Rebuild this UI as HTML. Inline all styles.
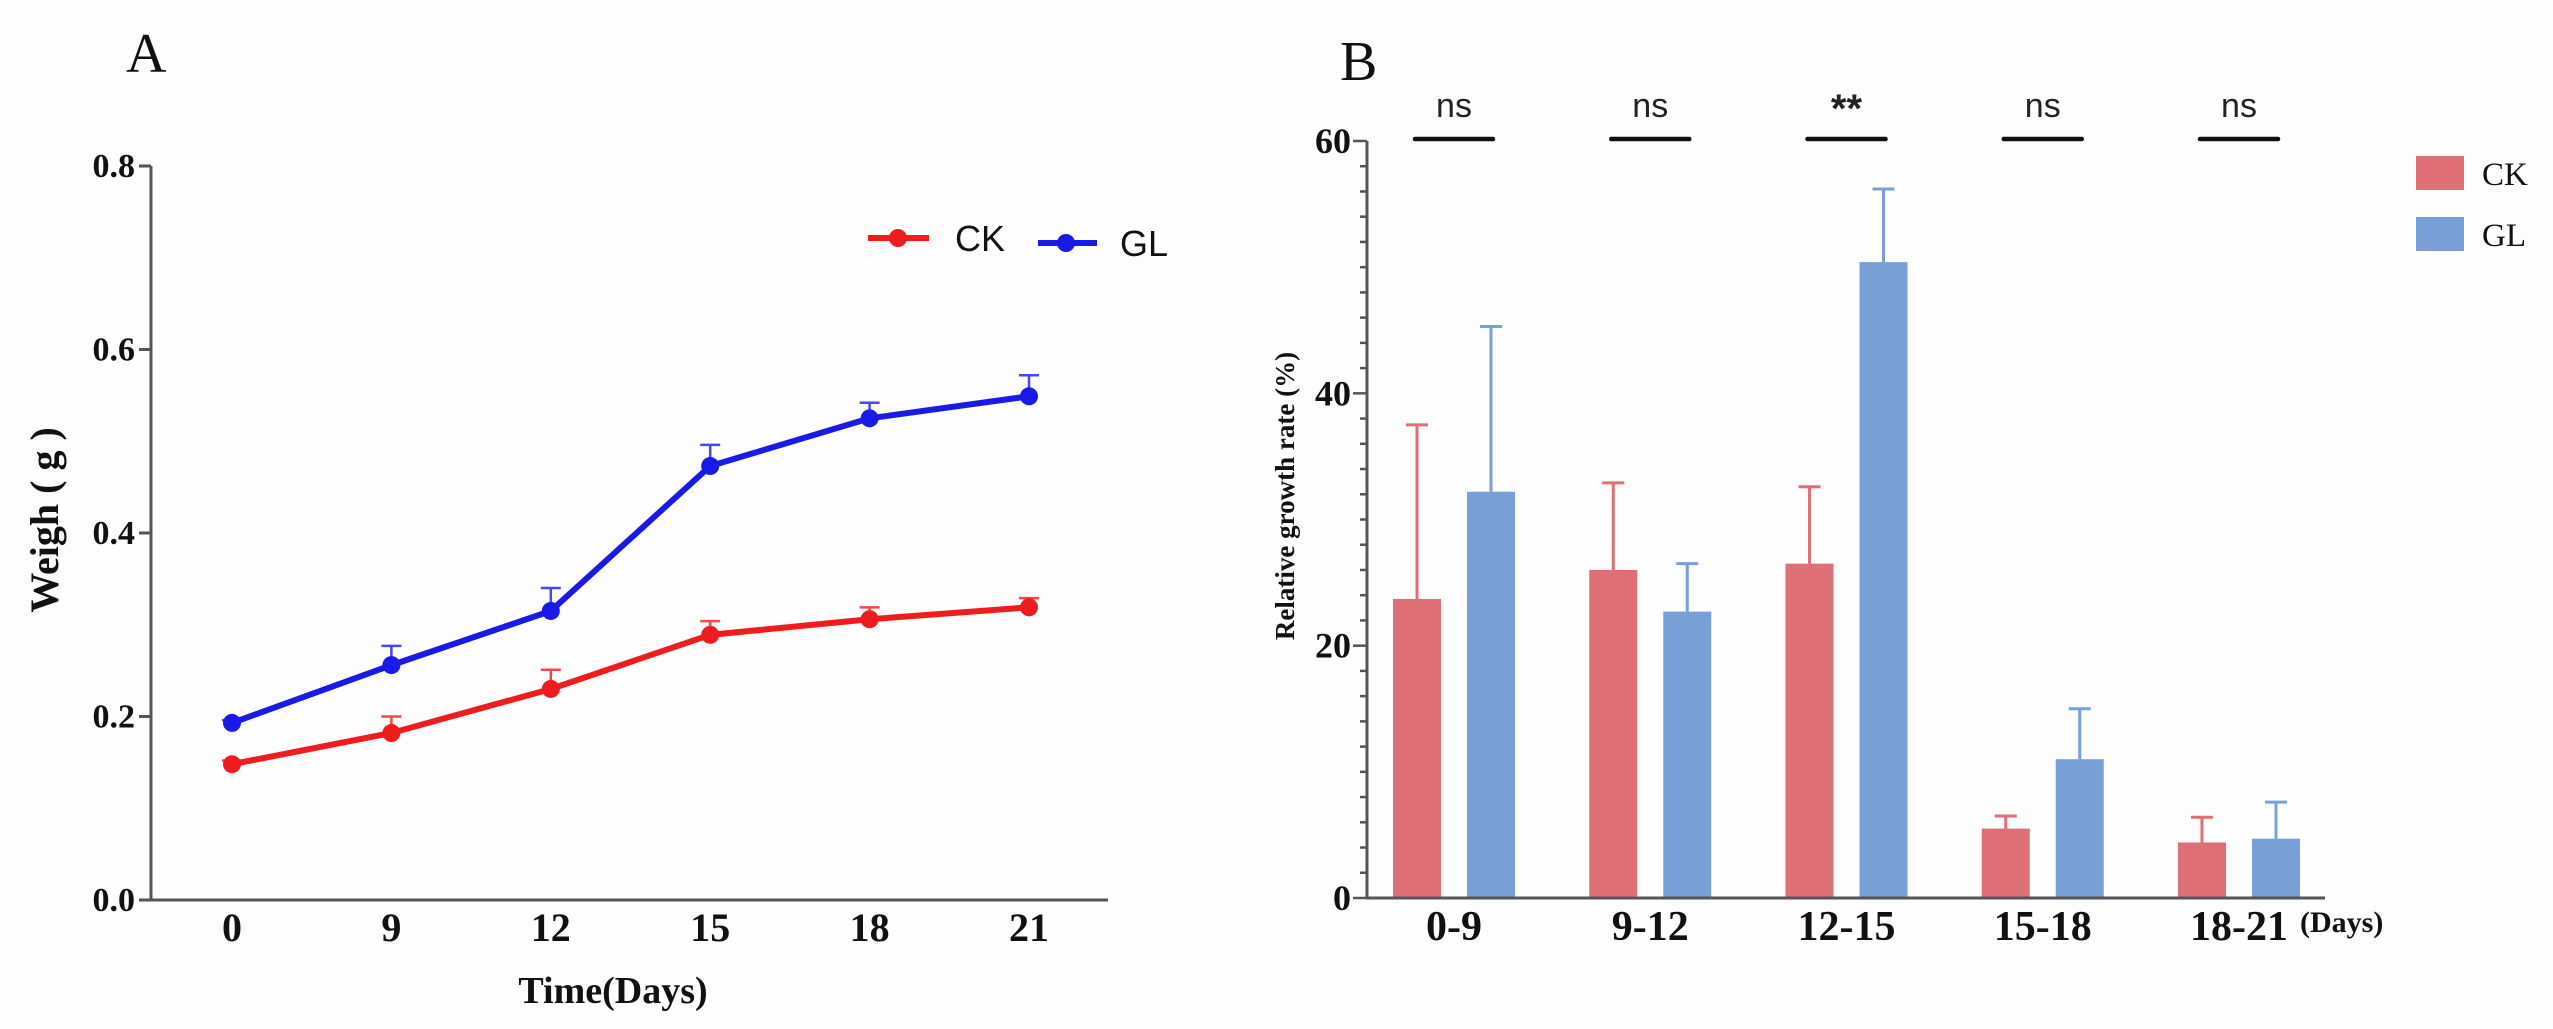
<!DOCTYPE html>
<html><head><meta charset="utf-8"><style>
html,body{margin:0;padding:0;background:#fdfdfd;}
svg{display:block;}
.ser{font-family:"Liberation Serif",serif;}
.sans{font-family:"Liberation Sans",sans-serif;}
</style></head><body>
<svg id="root" width="2553" height="1029" viewBox="0 0 2553 1029" xmlns="http://www.w3.org/2000/svg">
<rect width="2553" height="1029" fill="#fdfdfd"/>
<g id="chartA"></g>
<g id="chartB"></g>
</svg>
<script>
// ---- Chart A data ----
const daysA = ["0","9","12","15","18","21"];
const ckWeight = [0.148, 0.182, 0.230, 0.289, 0.306, 0.319];
const ckErr = [0.004, 0.018, 0.021, 0.015, 0.013, 0.010];
const glWeight = [0.193, 0.256, 0.315, 0.473, 0.525, 0.549];
const glErr = [0.003, 0.021, 0.025, 0.023, 0.017, 0.023];
const yTicksA = ["0.0","0.2","0.4","0.6","0.8"];
const yTickValsA = [0, 0.2, 0.4, 0.6, 0.8];
// ---- Chart B data ----
const periodsB = ["0-9","9-12","12-15","15-18","18-21"];
const ckRate = [23.7, 26.0, 26.5, 5.5, 4.4];
const ckRateErr = [13.8, 6.9, 6.1, 1.0, 2.0];
const glRate = [32.2, 22.7, 50.4, 11.0, 4.7];
const glRateErr = [13.1, 3.8, 5.8, 4.0, 2.9];
const sigLabels = ["ns","ns","**","ns","ns"];
const yTicksB = ["0","20","40","60"];
const yTickValsB = [0, 20, 40, 60];

const NS = "http://www.w3.org/2000/svg";
function mk(parent, tag, attrs, text){
  const e = document.createElementNS(NS, tag);
  for (const k in attrs) e.setAttribute(k, attrs[k]);
  if (text !== undefined) e.textContent = text;
  parent.appendChild(e);
  return e;
}

// ===== Chart A =====
(function(){
  const g = document.getElementById('chartA');
  const x0 = 151, yBase = 900, yTop = 166, xEnd = 1108;
  const yA = v => yBase - v / 0.8 * (yBase - yTop);
  const xA = i => 232 + i * 159.4;
  let t = mk(g,'text',{x:126,y:72,'font-size':56,class:'ser',fill:'#111'},'A');
  
  
  let ax = mk(g,'line',{x1:x0,y1:yTop,x2:x0,y2:yBase+1,stroke:'#555','stroke-width':3});
  
  
  ax = mk(g,'line',{x1:x0-1,y1:yBase,x2:xEnd,y2:yBase,stroke:'#555','stroke-width':3});
  
  
  yTickValsA.forEach((v,i)=>{
    const y = yA(v);
    const tk = mk(g,'line',{x1:x0-12,y1:y,x2:x0,y2:y,stroke:'#555','stroke-width':3});
    
    
    const lb = mk(g,'text',{x:x0-16,y:y+11,'font-size':34,'font-weight':'bold','text-anchor':'end',class:'ser',fill:'#111'},yTicksA[i]);
    
    
  });
  daysA.forEach((d,i)=>{
    const lb = mk(g,'text',{x:xA(i),y:941,'font-size':40,'font-weight':'bold','text-anchor':'middle',class:'ser',fill:'#111'},d);
    
    
  });
  t = mk(g,'text',{x:613,y:1003,'font-size':38,'font-weight':'bold','text-anchor':'middle',class:'ser',fill:'#111'},'Time(Days)');
  
  
  t = mk(g,'text',{x:0,y:0,'font-size':40,'font-weight':'bold','text-anchor':'middle',class:'ser',fill:'#111',transform:'translate(58,520) rotate(-90)'},'Weigh ( g )');
  
  
  function series(vals, errs, color, name){
    const sg = mk(g,'g',{});
    
    
    vals.forEach((v,i)=>{
      const x = xA(i), ytop = yA(v+errs[i]);
      const eb = mk(sg,'path',{d:`M${x},${yA(v)}V${ytop}M${x-10},${ytop}H${x+10}`,stroke:color,'stroke-width':2.5,fill:'none',opacity:0.8});
      
      
    });
    const pts = vals.map((v,i)=>xA(i)+','+yA(v)).join(' ');
    const ln = mk(sg,'polyline',{points:pts,stroke:color,'stroke-width':6,fill:'none'});
    
    
    vals.forEach((v,i)=>{
      const c = mk(sg,'circle',{cx:xA(i),cy:yA(v),r:9,fill:color});
      
      
    });
  }
  series(ckWeight, ckErr, '#ee1c1c', 'ck');
  series(glWeight, glErr, '#1a1ae6', 'gl');
  const lg = mk(g,'g',{});
  
  
  let e = mk(lg,'line',{x1:868,y1:238,x2:929,y2:238,stroke:'#ee1c1c','stroke-width':6});
  
  
  e = mk(lg,'circle',{cx:898,cy:238,r:9,fill:'#ee1c1c'});
  
  
  e = mk(lg,'text',{x:955,y:251,'font-size':36,class:'sans',fill:'#111'},'CK');
  
  
  e = mk(lg,'line',{x1:1038,y1:243,x2:1097,y2:243,stroke:'#1a1ae6','stroke-width':6});
  
  
  e = mk(lg,'circle',{cx:1066,cy:243,r:9,fill:'#1a1ae6'});
  
  
  e = mk(lg,'text',{x:1120,y:256,'font-size':36,class:'sans',fill:'#111'},'GL');
  
  
})();

// ===== Chart B =====
(function(){
  const g = document.getElementById('chartB');
  const x0 = 1367, yBase = 898, yTop = 141, xEnd = 2325;
  const yB = v => yBase - v / 60 * (yBase - yTop);
  const gc = i => 1454 + i * 196.25;
  const bw = 48, off = 37;
  const CKC = '#de6f76', GLC = '#789fd6';
  let t = mk(g,'text',{x:1340,y:80,'font-size':56,class:'ser',fill:'#111'},'B');
  
  
  for (let v = 0; v <= 60; v += 2){
    const major = v % 20 === 0;
    const tk = mk(g,'line',{x1:x0-(major?14:7),y1:yB(v),x2:x0,y2:yB(v),stroke:'#555','stroke-width':2.5});
    
    
  }
  yTickValsB.forEach((v,i)=>{
    const lb = mk(g,'text',{x:x0-16,y:yB(v)+12,'font-size':36,'font-weight':'bold','text-anchor':'end',class:'ser',fill:'#111'},yTicksB[i]);
    
    
  });
  let ax = mk(g,'line',{x1:x0,y1:yTop,x2:x0,y2:yBase+1,stroke:'#555','stroke-width':3});
  
  
  periodsB.forEach((p,i)=>{
    const c = gc(i);
    [[ckRate, ckRateErr, CKC, -off, 'ck'], [glRate, glRateErr, GLC, off, 'gl']].forEach(s=>{
      const v = s[0][i], er = s[1][i], xc = c + s[3];
      const eb = mk(g,'path',{d:`M${xc},${yB(v)}V${yB(v+er)}M${xc-11},${yB(v+er)}H${xc+11}`,stroke:s[2],'stroke-width':3,fill:'none'});
      
      
      const r = mk(g,'rect',{x:xc-bw/2,y:yB(v),width:bw,height:yBase-yB(v),fill:s[2]});
      
      
    });
    const lb = mk(g,'text',{x:c,y:940,'font-size':42,'font-weight':'bold','text-anchor':'middle',class:'ser',fill:'#111'},p);
    
    
    const sl = mk(g,'line',{x1:c-39,y1:139,x2:c+39,y2:139,stroke:'#111','stroke-width':4.5,'stroke-linecap':'round'});
    
    
    const st = mk(g,'text',{x:c,y:sigLabels[i]==='**'?122:117,'font-size':sigLabels[i]==='**'?40:34,'font-weight':sigLabels[i]==='**'?'bold':'normal','text-anchor':'middle',class:'sans',fill:'#222'},sigLabels[i]);
    
    
  });
  ax = mk(g,'line',{x1:x0-1,y1:yBase,x2:xEnd,y2:yBase,stroke:'#555','stroke-width':3});
  
  
  t = mk(g,'text',{x:2300,y:932,'font-size':30,'font-weight':'bold',class:'ser',fill:'#111'},'(Days)');
  
  
  t = mk(g,'text',{x:0,y:0,'font-size':27,'font-weight':'bold','text-anchor':'middle',class:'ser',fill:'#111',transform:'translate(1294,496) rotate(-90)'},'Relative growth rate (%)');
  
  
  const lg = mk(g,'g',{});
  
  
  let e = mk(lg,'rect',{x:2416,y:156,width:48,height:34,fill:CKC});
  
  
  e = mk(lg,'text',{x:2482,y:185,'font-size':33,class:'ser',fill:'#111'},'CK');
  
  
  e = mk(lg,'rect',{x:2416,y:217,width:48,height:34,fill:GLC});
  
  
  e = mk(lg,'text',{x:2482,y:246,'font-size':33,class:'ser',fill:'#111'},'GL');
  
  
})();
</script>
</body></html>
